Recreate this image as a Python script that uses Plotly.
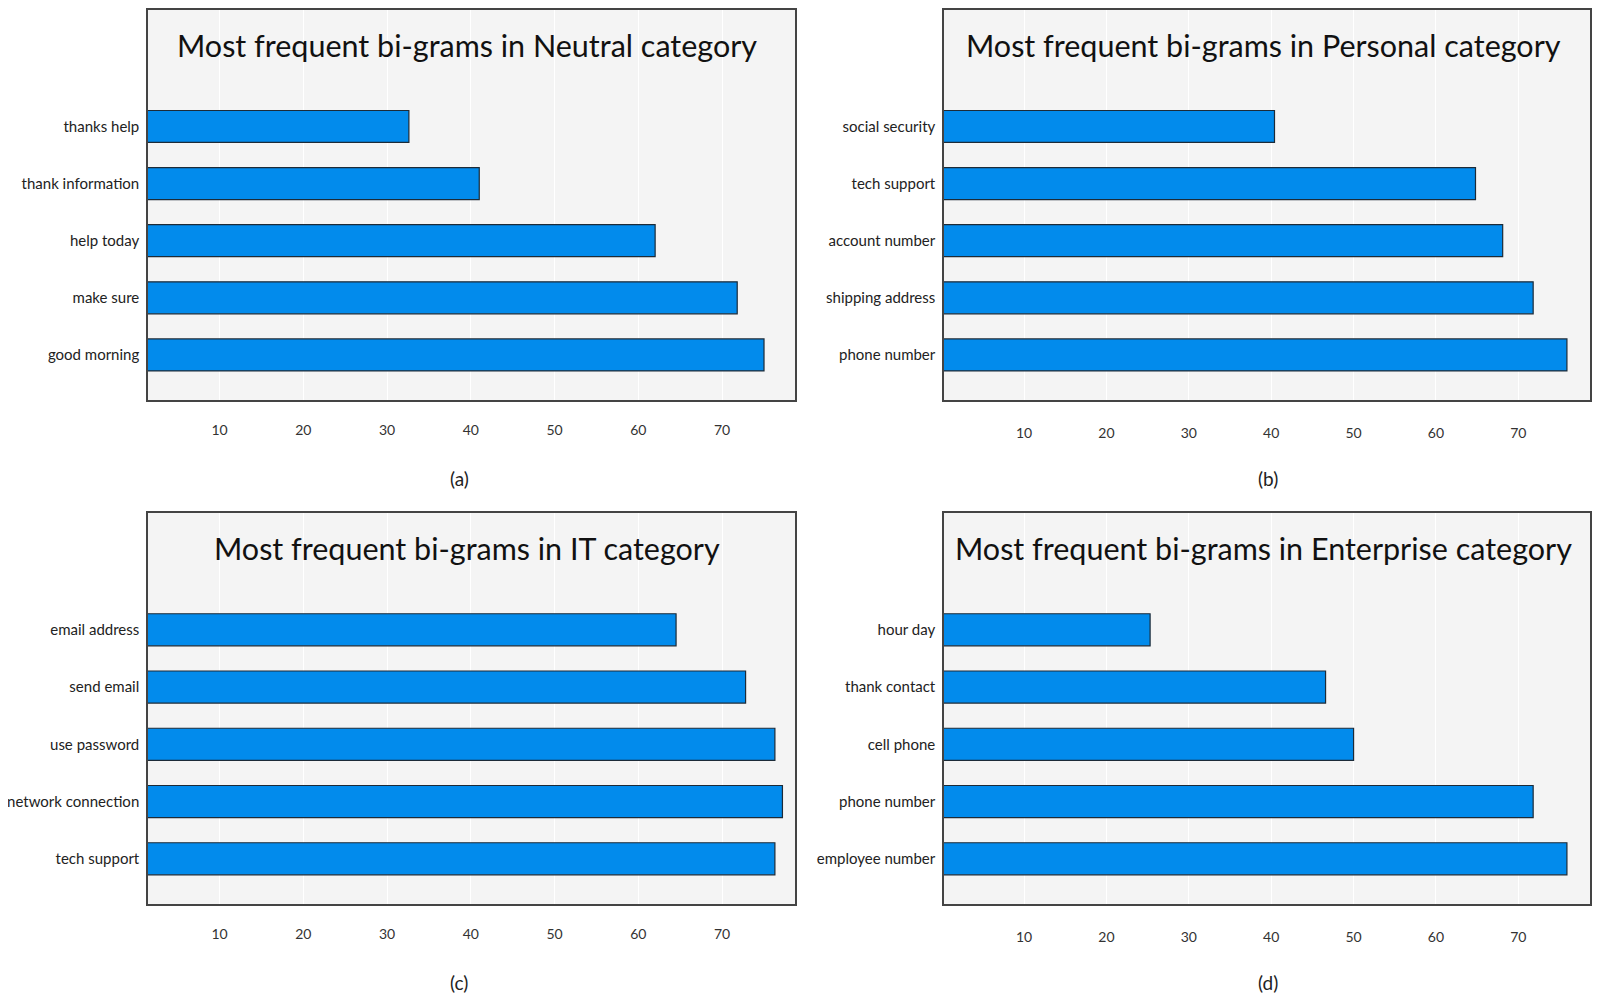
import plotly.graph_objects as go

neutral_labels = ["good morning", "make sure", "help today", "thank information", "thanks help"]
neutral_values = [75.0, 71.8, 62.0, 41.0, 32.6]

personal_labels = ["phone number", "shipping address", "account number", "tech support", "social security"]
personal_values = [75.9, 71.8, 68.1, 64.8, 40.4]

it_labels = ["tech support", "network connection", "use password", "send email", "email address"]
it_values = [76.3, 77.2, 76.3, 72.8, 64.5]

enterprise_labels = ["employee number", "phone number", "cell phone", "thank contact", "hour day"]
enterprise_values = [75.9, 71.8, 50.0, 46.6, 25.3]

titles = ["Most frequent bi-grams in Neutral category",
          "Most frequent bi-grams in Personal category",
          "Most frequent bi-grams in IT category",
          "Most frequent bi-grams in Enterprise category"]
captions = ["(a)", "(b)", "(c)", "(d)"]
tick_vals = [10, 20, 30, 40, 50, 60, 70]

OFF = 8  # default page margin around the figure
FW, FH = 1600 - 2 * OFF, 1003 - 2 * OFF
FONT = "Lato"


def px(x):
    return (x - OFF) / FW


def py(y):
    return 1 - (y - OFF) / FH


panels = [
    (neutral_labels, neutral_values, (148, 795), (10, 400), (1.45, 78.7), 16),
    (personal_labels, personal_values, (944, 1590), (10, 400), (0.28, 78.7), 19),
    (it_labels, it_values, (148, 795), (513, 904), (1.45, 78.7), 16),
    (enterprise_labels, enterprise_values, (944, 1590), (513, 904), (0.28, 78.7), 19),
]
title_y = [45, 45, 548, 548]
caption_pos = [(459, 478), (1268, 478), (459, 982), (1268, 982)]

fig = go.Figure()
for i, (labels, values, (x0, x1), (y0, y1), xr, stand) in enumerate(panels, start=1):
    xa = "x" if i == 1 else f"x{i}"
    ya = "y" if i == 1 else f"y{i}"
    fig.add_trace(go.Bar(
        x=values, y=labels, orientation="h", width=0.56,
        marker=dict(color="#028bec", line=dict(color="#1c2b38", width=1.2)),
        xaxis=xa, yaxis=ya, showlegend=False,
    ))
    xkey = "xaxis" if i == 1 else f"xaxis{i}"
    ykey = "yaxis" if i == 1 else f"yaxis{i}"
    fig.layout[xkey] = dict(
        domain=[px(x0), px(x1)], anchor=ya, range=list(xr),
        tickvals=tick_vals, showgrid=True, gridcolor="#ffffff", gridwidth=1,
        showline=True, linecolor="#444444", linewidth=1.5, mirror=True,
        zeroline=False, ticks="", ticklabelstandoff=stand,
        tickfont=dict(family=FONT, size=14, color="#333333"),
    )
    fig.layout[ykey] = dict(
        domain=[py(y1), py(y0)], anchor=xa, type="category",
        categoryorder="array", categoryarray=labels, range=[-0.79, 6.04],
        showgrid=False, showline=True, linecolor="#444444", linewidth=1.5, mirror=True,
        zeroline=False, ticks="", ticklabelstandoff=4,
        tickfont=dict(family=FONT, size=15, color="#222222"),
    )
    fig.add_annotation(
        text=titles[i - 1], x=px((x0 + x1) / 2 - 4), y=py(title_y[i - 1]),
        xref="paper", yref="paper", showarrow=False, xanchor="center", yanchor="middle",
        font=dict(family=FONT, size=30.5, color="#111111"),
    )
    cx, cy = caption_pos[i - 1]
    fig.add_annotation(
        text=captions[i - 1], x=px(cx), y=py(cy),
        xref="paper", yref="paper", showarrow=False, xanchor="center", yanchor="middle",
        font=dict(family=FONT, size=19, color="#222222"),
    )

fig.update_layout(
    width=FW, height=FH, margin=dict(l=0, r=0, t=0, b=0),
    paper_bgcolor="#ffffff", plot_bgcolor="#f4f4f4",
)
fig.write_html("out.html")
